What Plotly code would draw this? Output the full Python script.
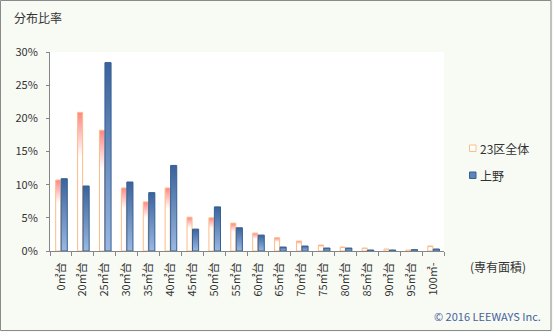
import plotly.graph_objects as go

# Floor-area bands (専有面積) and share of listings in each band, in percent
categories = ["0㎡台", "20㎡台", "25㎡台", "30㎡台", "35㎡台", "40㎡台", "45㎡台",
              "50㎡台", "55㎡台", "60㎡台", "65㎡台", "70㎡台", "75㎡台", "80㎡台",
              "85㎡台", "90㎡台", "95㎡台", "100㎡-"]
ward23_share = [10.7, 20.9, 18.2, 9.5, 7.4, 9.5, 5.1, 5.0, 4.2, 2.7,
                2.0, 1.5, 0.9, 0.6, 0.45, 0.3, 0.15, 0.75]
ueno_share = [10.9, 9.8, 28.4, 10.4, 8.8, 12.9, 3.3, 6.65, 3.5, 2.4,
              0.6, 0.75, 0.45, 0.45, 0.15, 0.15, 0.2, 0.3]
y_ticks = [0, 5, 10, 15, 20, 25, 30]

W, H = 553, 332
ML, MR, MT, MB = 50, 109, 52, 81
FONT = "Noto Sans CJK JP, Noto Sans, sans-serif"
TEXT = "#333333"

series = [
    dict(name="23区全体", values=ward23_share, left=-0.24, right=-0.01,
         line="#fbbd88",
         scale=[[0, "#ffffff"], [0.68, "#ffffff"], [1, "#ff8585"]]),
    dict(name="上野", values=ueno_share, left=0.01, right=0.29,
         line="#365f93",
         scale=[[0, "#9ab8e1"], [1, "#3a639c"]]),
]

fig = go.Figure()
for s in series:
    for i, v in enumerate(s["values"]):
        x0, x1 = i + s["left"], i + s["right"]
        fig.add_trace(go.Scatter(
            x=[x0, x0, x1, x1, x0], y=[0, v, v, 0, 0],
            mode="lines", fill="toself",
            fillgradient=dict(type="vertical", colorscale=s["scale"]),
            line=dict(color=s["line"], width=1),
            showlegend=False, hoverinfo="skip",
        ))

pw = W - ML - MR
ph = H - MT - MB

# Legend keys and labels
legend_y = [148, 175]
for s, yy in zip(series, legend_y):
    ky0 = 1 - (yy - 3 - MT) / ph
    ky1 = 1 - (yy + 3.5 - MT) / ph
    kfill = "#ffffff" if s["name"] == "23区全体" else "#5f84b8"
    fig.add_shape(type="rect", xref="paper", yref="paper",
                  x0=(469.5 - ML) / pw, x1=(476 - ML) / pw, y0=ky1, y1=ky0,
                  line=dict(color=s["line"], width=1), fillcolor=kfill)
    fig.add_annotation(text=s["name"], xref="paper", yref="paper",
                       x=(478 - ML) / pw, y=1 - (yy - MT) / ph,
                       xanchor="left", yanchor="middle", showarrow=False,
                       font=dict(size=12, color=TEXT, family=FONT))

# Title, axis caption and credit
fig.add_annotation(text="分布比率", xref="paper", yref="paper",
                   x=(12 - ML) / pw, y=1 + (MT - 17) / ph,
                   xanchor="left", yanchor="middle", showarrow=False,
                   font=dict(size=12, color=TEXT, family=FONT))
fig.add_annotation(text="(専有面積)", xref="paper", yref="paper",
                   x=(498 - ML) / pw, y=1 - (266 - MT) / ph,
                   xanchor="center", yanchor="middle", showarrow=False,
                   font=dict(size=12, color=TEXT, family=FONT))
fig.add_annotation(text="© 2016 LEEWAYS Inc.", xref="paper", yref="paper",
                   x=(543 - ML) / pw, y=1 - (316 - MT) / ph,
                   xanchor="right", yanchor="middle", showarrow=False,
                   font=dict(size=11, color="#45639a", family=FONT))

# Outer frame of the figure
fig.add_shape(type="rect", xref="paper", yref="paper",
              x0=(0.5 - ML) / pw, x1=(551 - ML) / pw,
              y0=1 - (330.5 - MT) / ph, y1=1 + (MT - 0.5) / ph,
              line=dict(color="#8a8a8a", width=1))

fig.update_layout(
    width=W, height=H,
    margin=dict(l=ML, r=MR, t=MT, b=MB, pad=0),
    paper_bgcolor="#f8faf4", plot_bgcolor="#ffffff",
    showlegend=False,
    font=dict(family=FONT, size=11, color=TEXT),
    xaxis=dict(
        range=[-0.5, len(categories) - 0.5],
        tickmode="array", tickvals=list(range(len(categories))),
        ticktext=categories, tickangle=-90, ticks="",
        ticklabelstandoff=6,
        showline=True, linecolor="#868686", linewidth=1,
        showgrid=False, zeroline=False, fixedrange=True,
        minor=dict(tickmode="linear", tick0=-0.5, dtick=1, ticks="outside",
                   ticklen=4, tickcolor="#868686", showgrid=False),
        tickfont=dict(size=11, color=TEXT, family=FONT),
    ),
    yaxis=dict(
        range=[0, 30], tickmode="array", tickvals=y_ticks,
        ticktext=[f"{t}%" for t in y_ticks],
        ticks="outside", ticklen=3, tickcolor="#868686",
        ticklabelstandoff=6,
        showline=True, linecolor="#868686", linewidth=1,
        showgrid=False, zeroline=False, fixedrange=True,
        tickfont=dict(size=11, color=TEXT, family=FONT),
    ),
)

fig.write_html("out.html")
